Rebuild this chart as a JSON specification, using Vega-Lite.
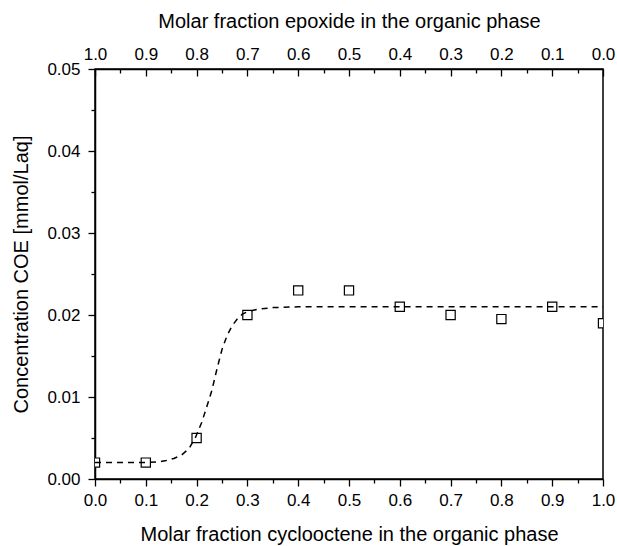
{
  "$schema": "https://vega.github.io/schema/vega-lite/v6.json",
  "autosize": {"type": "none"},
  "padding": {"left": 95, "top": 69, "right": 14, "bottom": 67},
  "width": 508,
  "height": 410,
  "background": "white",
  "config": {
    "view": {"stroke": "black", "strokeWidth": 1.5},
    "font": "Liberation Sans",
    "axis": {
      "labelFlush": false,
      "labelOverlap": false,
      "grid": false,
      "domainColor": "black",
      "domainWidth": 1.5,
      "tickColor": "black",
      "tickWidth": 1.3,
      "labelColor": "black",
      "titleColor": "black",
      "labelFont": "Liberation Sans",
      "titleFont": "Liberation Sans",
      "labelFontSize": 17,
      "titleFontSize": 20,
      "titleFontWeight": "normal"
    }
  },
  "datasets": {
    "pts": [
      {"x": 0.0, "c": 0.002},
      {"x": 0.1, "c": 0.002},
      {"x": 0.2, "c": 0.005},
      {"x": 0.3, "c": 0.020},
      {"x": 0.4, "c": 0.023},
      {"x": 0.5, "c": 0.023},
      {"x": 0.6, "c": 0.021},
      {"x": 0.7, "c": 0.020},
      {"x": 0.8, "c": 0.0195},
      {"x": 0.9, "c": 0.021},
      {"x": 1.0, "c": 0.019}
    ],
    "curve": [
      {"x": 0.0, "c": 0.002},
      {"x": 0.05, "c": 0.002},
      {"x": 0.1, "c": 0.002},
      {"x": 0.125, "c": 0.0021},
      {"x": 0.14, "c": 0.00225},
      {"x": 0.155, "c": 0.0025},
      {"x": 0.17, "c": 0.0029},
      {"x": 0.185, "c": 0.0037},
      {"x": 0.198, "c": 0.0051},
      {"x": 0.21, "c": 0.0069},
      {"x": 0.22, "c": 0.0088},
      {"x": 0.23, "c": 0.0108},
      {"x": 0.24, "c": 0.0134},
      {"x": 0.25, "c": 0.0158},
      {"x": 0.26, "c": 0.0175},
      {"x": 0.27, "c": 0.0187},
      {"x": 0.28, "c": 0.0195},
      {"x": 0.29, "c": 0.0201},
      {"x": 0.30, "c": 0.0204},
      {"x": 0.32, "c": 0.0207},
      {"x": 0.35, "c": 0.0209},
      {"x": 0.4, "c": 0.021},
      {"x": 0.6, "c": 0.021},
      {"x": 1.0, "c": 0.021}
    ],
    "top": [{"e": 0.0}, {"e": 1.0}]
  },
  "layer": [
    {
      "layer": [
        {
          "data": {"name": "pts"},
          "mark": {"type": "point", "shape": "square", "size": 85, "filled": false, "fill": "white", "fillOpacity": 1, "stroke": "black", "strokeWidth": 1.2, "opacity": 1, "clip": true},
          "encoding": {
            "x": {"field": "x", "type": "quantitative"},
            "y": {"field": "c", "type": "quantitative"}
          }
        },
        {
          "data": {"name": "curve"},
          "mark": {"type": "line", "color": "black", "strokeWidth": 1.5, "strokeDash": [6, 5], "clip": true},
          "encoding": {
            "x": {"field": "x", "type": "quantitative"},
            "y": {"field": "c", "type": "quantitative"}
          }
        }
      ],
      "encoding": {
        "x": {
          "field": "x",
          "type": "quantitative",
          "scale": {"domain": [0, 1], "nice": false, "zero": false},
          "axis": {
            "orient": "bottom",
            "title": "Molar fraction cyclooctene in the organic phase",
            "values": [0, 0.05, 0.1, 0.15, 0.2, 0.25, 0.3, 0.35, 0.4, 0.45, 0.5, 0.55, 0.6, 0.65, 0.7, 0.75, 0.8, 0.85, 0.9, 0.95, 1.0],
            "labelExpr": "round(datum.value*100) % 10 == 0 ? format(datum.value, '.1f') : ''",
            "tickSize": {"condition": {"test": "round(datum.value*100) % 10 == 0", "value": 7}, "value": 4},
            "labelPadding": 6,
            "titlePadding": 16
          }
        },
        "y": {
          "field": "c",
          "type": "quantitative",
          "scale": {"domain": [0, 0.05], "nice": false},
          "axis": {
            "title": "Concentration COE [mmol/Laq]",
            "values": [0, 0.005, 0.01, 0.015, 0.02, 0.025, 0.03, 0.035, 0.04, 0.045, 0.05],
            "labelExpr": "round(datum.value*1000) % 10 == 0 ? format(datum.value, '.2f') : ''",
            "tickSize": {"condition": {"test": "round(datum.value*1000) % 10 == 0", "value": 7}, "value": 4},
            "labelPadding": 8,
            "titlePadding": 15
          }
        }
      }
    },
    {
      "data": {"name": "top"},
      "mark": {"type": "point", "opacity": 0},
      "encoding": {
        "x": {
          "field": "e",
          "type": "quantitative",
          "scale": {"domain": [0, 1], "reverse": true, "nice": false, "zero": false},
          "axis": {
            "orient": "top",
            "title": "Molar fraction epoxide in the organic phase",
            "values": [0, 0.05, 0.1, 0.15, 0.2, 0.25, 0.3, 0.35, 0.4, 0.45, 0.5, 0.55, 0.6, 0.65, 0.7, 0.75, 0.8, 0.85, 0.9, 0.95, 1.0],
            "labelExpr": "round(datum.value*100) % 10 == 0 ? format(datum.value, '.1f') : ''",
            "tickSize": {"condition": {"test": "round(datum.value*100) % 10 == 0", "value": -7}, "value": -4},
            "labelPadding": 12.7,
            "titlePadding": 11
          }
        }
      }
    }
  ],
  "resolve": {"scale": {"x": "independent"}}
}
